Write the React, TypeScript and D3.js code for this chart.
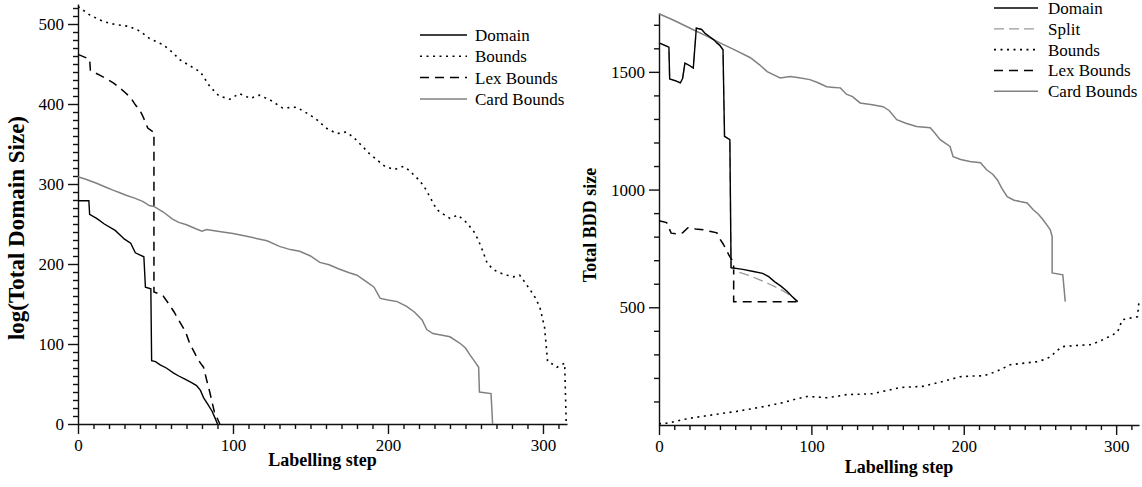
import React, { useEffect, useRef } from 'react';
import * as d3 from 'd3';

// left panel: log(total domain size) per labelling step
const leftDomain = [[0,279],[7,279],[7.5,262],[12,257],[17,250],[24,242],[30,231],[34,226],[37,214],[42.5,209],[43.5,171],[47,169],[47.5,79],[50,78],[53,74],[57,70],[61.5,64],[65,60],[69,56],[73,52],[76.5,48],[79,42],[81,33],[84,24],[86.5,16],[88.5,7],[90,0]];
const leftBounds = [[0,522],[7,512],[14,505],[20,501],[25,499],[33,497],[40,491],[46,482],[55,474],[60,466],[66,455],[72,448],[79,440],[85,422],[91,410],[98,406],[104,413],[108,410],[111,407],[117,411],[124,405],[132,395],[141,396],[150,386],[155,379],[160,370],[167,363],[173,365],[178,358],[182,350],[188,338],[193,330],[198,322],[204,318],[210,322],[213,318],[218,309],[223,298],[227,284],[231.5,268],[236,262],[240,257],[245,261],[250,253],[255,242],[258,231],[261,217],[264,201],[268,193],[272,189],[277,186],[281,184],[285,186],[288,178],[292,167],[295,158],[298,146],[301,121],[303,78],[306,75],[309,71],[314,76],[315,0]];
const leftLex = [[0,462],[7.5,456],[8,442],[14,436],[19,431],[23,426],[27,420],[30,415],[34,408],[37,399],[40,392],[42,384],[45,370],[48.5,365],[49,365],[49,165],[52,163],[55,160],[59,149],[62,140],[64,133],[68,120],[70,112],[72,101],[76,86],[79,76],[81,71],[83,55],[85,40],[88,15],[91.5,0]];
const leftCard = [[0,309],[5,306],[12,301],[18,296],[23,292],[27,289],[31,286],[37,282],[42,278],[46,273],[49,272],[55,265],[61,256],[65,252],[70,249],[76,244],[80,241],[83,243],[90,241],[100,238],[108,235],[115,232],[122,229],[130,222],[137,218],[143,216],[150,210],[156,202],[162,199],[168,194],[175,189],[180,186],[186,178],[191,171],[195,157],[200,155],[206,153],[212,147],[217,140],[222,130],[225,118],[229,113],[235,111],[240,109],[244,104],[247,100],[250,95],[253,86],[256,78],[258.5,71],[259,40],[266.5,38],[267.5,0]];

// right panel: total BDD size per labelling step
const rightDomain = [[0,1623],[6.5,1605],[7,1470],[11,1462],[14,1453],[15.5,1472],[17,1537],[20,1527],[22.5,1516],[24.5,1686],[28,1680],[30,1665],[33,1650],[36,1636],[38,1623],[40,1612],[42,1594],[43,1226],[46.5,1212],[47.3,668],[55,661],[62,652],[68,644],[72,630],[76,608],[80,590],[84,568],[87,548],[91,524]];
const rightSplit = [[0,1623],[6.5,1605],[7,1470],[11,1462],[14,1453],[15.5,1472],[17,1537],[20,1527],[22.5,1516],[24.5,1686],[28,1680],[30,1665],[33,1650],[36,1636],[38,1623],[40,1612],[42,1594],[43,1226],[46.5,1212],[47.3,668],[52,650],[58,638],[65,620],[72,600],[78,582],[84,560],[88,540],[91,524]];
const rightBounds = [[0,5],[5,8],[9,13],[15,22],[22.5,31],[30,38],[37,45],[44.5,52],[51,58],[57.5,65],[66,75],[75,86],[82,96],[88,107],[97,121],[104,119],[110,116],[117,122],[123,129],[132,131],[140,133],[150,147],[158,159],[166,162],[173,164],[182,178],[191,193],[197.6,205],[205,208],[213,209],[219,222],[224,235],[230.5,256],[240,263],[248,269],[253,278],[257,290],[261,315],[265,333],[274,338],[283,341],[289,355],[294,371],[298,384],[301,396],[304,447],[310,455],[314,460],[315,525]];
const rightLex = [[0,868],[5,860],[8,815],[12,812],[15.5,816],[19,838],[24,833],[29,829],[34,822],[38,816],[40,790],[42,770],[44.5,740],[46,720],[49,690],[49,524],[91,524]];
const rightCard = [[0,1747],[10,1718],[22.5,1679],[30,1656],[40,1623],[50,1592],[60,1560],[66,1530],[71,1501],[76,1485],[79.5,1474],[86,1480],[92,1475],[99,1467],[104,1455],[110,1437],[115,1434],[119,1432],[123,1405],[127,1395],[132,1368],[140,1360],[147,1352],[151,1336],[156,1297],[162,1282],[169,1268],[178,1263],[181,1240],[184.5,1212],[191,1183],[193,1140],[198,1128],[204,1119],[211,1114],[215,1084],[219,1065],[222,1042],[225,1005],[228.5,970],[233,955],[237,949],[241.6,943],[245.6,914],[249,895],[252,872],[254.5,850],[256.7,830],[258,801],[258,646],[265,638],[266.6,524]];

const xMajor = [0, 100, 200, 300];
const leftYMajor = [0, 100, 200, 300, 400, 500];
const rightYMajor = [500, 1000, 1500];

const styles = {
  domain: { stroke: '#000', dash: null, width: 1.4 },
  split: { stroke: '#999', dash: '10,5', width: 1.3 },
  bounds: { stroke: '#000', dash: '2,4.5', width: 1.6 },
  lex: { stroke: '#000', dash: '9,6', width: 1.5 },
  card: { stroke: '#808080', dash: null, width: 1.5 },
};

const FONT = '"Liberation Serif", "Times New Roman", serif';

export default function App() {
  const ref = useRef(null);

  useEffect(() => {
    const svg = d3.select(ref.current);
    svg.selectAll('*').remove();

    const drawPanel = (cfg) => {
      const { x, y, xTicks, yTicks, yMinor, series, legend, yTitle, yTitleSize, yTitleX, yTitleY, xTitleY } = cfg;
      const g = svg.append('g');

      // minor ticks
      g.append('g')
        .attr('transform', `translate(0,${y.range()[0]})`)
        .call(d3.axisBottom(x).tickValues(d3.range(10, x.domain()[1], 10).filter(v => v % 100 !== 0)).tickSize(5).tickSizeOuter(0).tickFormat(() => ''))
        .call(a => a.select('.domain').remove());
      g.append('g')
        .attr('transform', `translate(${x.range()[0]},0)`)
        .call(d3.axisLeft(y).tickValues(yMinor).tickSize(5).tickSizeOuter(0).tickFormat(() => ''))
        .call(a => a.select('.domain').remove());

      // major axes
      const xa = g.append('g')
        .attr('transform', `translate(0,${y.range()[0]})`)
        .call(d3.axisBottom(x).tickValues(xTicks).tickSize(10).tickSizeOuter(0).tickPadding(5).tickFormat(d3.format('d')));
      const ya = g.append('g')
        .attr('transform', `translate(${x.range()[0]},0)`)
        .call(d3.axisLeft(y).tickValues(yTicks).tickSize(10).tickSizeOuter(0).tickPadding(4).tickFormat(d3.format('d')));
      [xa, ya].forEach(a => {
        a.attr('font-family', null).attr('font-size', null);
        a.selectAll('text').style('font-family', FONT).style('font-size', '17px').attr('fill', '#000');
      });
      g.selectAll('line, path').attr('stroke', '#111').attr('stroke-width', 1.4);

      const line = d3.line().x(d => x(d[0])).y(d => y(d[1]));
      series.forEach(s => {
        g.append('path')
          .attr('d', line(s.data))
          .attr('fill', 'none')
          .attr('stroke', s.style.stroke)
          .attr('stroke-width', s.style.width)
          .attr('stroke-dasharray', s.style.dash);
      });

      // legend
      const lg = g.append('g');
      legend.items.forEach((it, i) => {
        const ly = legend.y0 + i * legend.step;
        lg.append('line')
          .attr('x1', legend.x1).attr('x2', legend.x2).attr('y1', ly).attr('y2', ly)
          .attr('stroke', it.style.stroke).attr('stroke-width', it.style.width)
          .attr('stroke-dasharray', it.style.dash);
        lg.append('text')
          .attr('x', legend.tx).attr('y', ly + 6)
          .style('font-family', FONT).style('font-size', '17px')
          .text(it.name);
      });

      // titles
      g.append('text')
        .attr('x', d3.mean(x.range())).attr('y', xTitleY)
        .attr('text-anchor', 'middle')
        .style('font-family', FONT).style('font-size', '18px').style('font-weight', 'bold')
        .text('Labelling step');
      g.append('text')
        .attr('transform', `translate(${yTitleX},${yTitleY}) rotate(-90)`)
        .attr('text-anchor', 'middle')
        .style('font-family', FONT).style('font-size', `${yTitleSize}px`).style('font-weight', 'bold')
        .text(yTitle);
    };

    const xL = d3.scaleLinear().domain([0, 315.5]).range([78, 567]);
    const yL = d3.scaleLinear().domain([0, 525]).range([424, 4]);
    drawPanel({
      x: xL, y: yL, xTicks: xMajor, yTicks: leftYMajor,
      yMinor: d3.range(10, 525, 10).filter(v => v % 100 !== 0),
      series: [
        { data: leftCard, style: styles.card },
        { data: leftBounds, style: styles.bounds },
        { data: leftLex, style: styles.lex },
        { data: leftDomain, style: styles.domain },
      ],
      legend: {
        x1: 420, x2: 467, tx: 475, y0: 35, step: 21.3,
        items: [
          { name: 'Domain', style: styles.domain },
          { name: 'Bounds', style: styles.bounds },
          { name: 'Lex Bounds', style: styles.lex },
          { name: 'Card Bounds', style: styles.card },
        ],
      },
      yTitle: 'log(Total Domain Size)', yTitleSize: 23, yTitleX: 24, yTitleY: 228, xTitleY: 466,
    });

    const xR = d3.scaleLinear().domain([0, 315]).range([659, 1139]);
    const yR = d3.scaleLinear().domain([0, 1750]).range([425, 13]);
    drawPanel({
      x: xR, y: yR, xTicks: xMajor, yTicks: rightYMajor,
      yMinor: d3.range(100, 1750, 100).filter(v => v % 500 !== 0),
      series: [
        { data: rightCard, style: styles.card },
        { data: rightBounds, style: styles.bounds },
        { data: rightLex, style: styles.lex },
        { data: rightSplit, style: styles.split },
        { data: rightDomain, style: styles.domain },
      ],
      legend: {
        x1: 994, x2: 1038, tx: 1048, y0: 8, step: 20.8,
        items: [
          { name: 'Domain', style: styles.domain },
          { name: 'Split', style: styles.split },
          { name: 'Bounds', style: styles.bounds },
          { name: 'Lex Bounds', style: styles.lex },
          { name: 'Card Bounds', style: styles.card },
        ],
      },
      yTitle: 'Total BDD size', yTitleSize: 18, yTitleX: 596, yTitleY: 225, xTitleY: 473,
    });
  }, []);

  return (
    <svg ref={ref} width={1142} height={487}
      style={{ position: 'absolute', left: 0, top: 0, background: '#fff' }} />
  );
}
